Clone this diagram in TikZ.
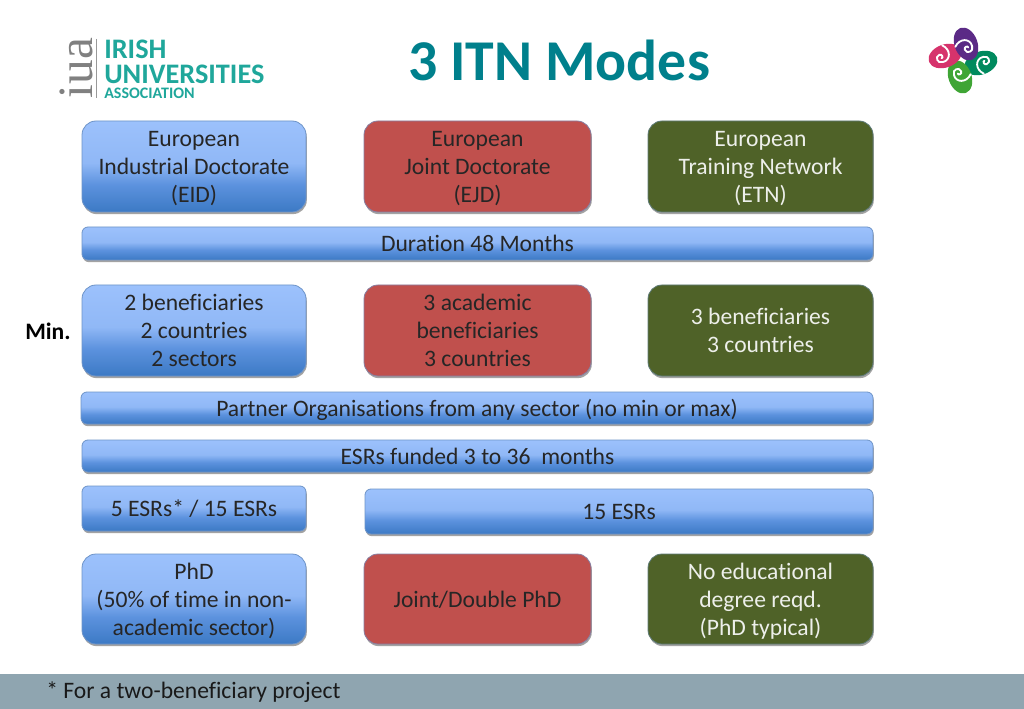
\documentclass[tikz,border=0pt]{standalone}
\usepackage{fontspec}
\setmainfont[Ligatures=NoCommon]{Carlito}
\newfontfamily\iuaserif{Liberation Serif}
\usetikzlibrary{shadows,calc}
\definecolor{teal1}{HTML}{00808C}
\definecolor{iuateal}{HTML}{1FA79B}
\definecolor{edgeblue}{HTML}{6E94C8}
\definecolor{redfill}{HTML}{C0504D}
\definecolor{greenfill}{HTML}{4F6228}
\definecolor{footbar}{HTML}{8FA5B0}
\definecolor{knotviolet}{HTML}{5B2A86}
\definecolor{knotpink}{HTML}{D6336C}
\definecolor{knotgreen}{HTML}{3FA535}
\definecolor{knotteal}{HTML}{008A5E}
\pgfdeclareverticalshading{bluegrad}{100bp}{
  color(0bp)=({rgb,255:red,62;green,123;blue,198});
  color(26bp)=({rgb,255:red,62;green,123;blue,198});
  color(40bp)=({rgb,255:red,92;green,146;blue,222});
  color(52bp)=({rgb,255:red,144;green,184;blue,246});
  color(75bp)=({rgb,255:red,156;green,193;blue,252});
  color(100bp)=({rgb,255:red,156;green,193;blue,252})}
\newcommand{\sT}{\rule[-3.2pt]{0pt}{18.8pt}}
\tikzset{
  x=0.75pt,y=-0.75pt,
  boxbase/.style={rounded corners=10.5pt,inner sep=0pt,align=center,
    font=\fontsize{17.7}{21}\selectfont,
    drop shadow={shadow xshift=0.6pt,shadow yshift=-1.6pt,opacity=0.36,fill=black}},
  bluebox/.style={boxbase,shading=bluegrad,draw=edgeblue,line width=0.6pt,text=black!85},
  redbox/.style={boxbase,fill=redfill,draw=edgeblue!70!redfill,line width=0.6pt,text=black!85},
  greenbox/.style={boxbase,fill=greenfill,draw=edgeblue!50!greenfill,line width=0.6pt,text=white!90!greenfill},
  barbox/.style={bluebox,rounded corners=4.5pt}
}
\newcommand{\bx}[7]{% name, style, x1,y1,x2,y2, text
  \node[#2,minimum width={(#5-#3)*0.75pt},minimum height={(#6-#4)*0.75pt}] (#1)
    at ({(#3+#5)/2},{(#4+#6)/2}) {\sT #7\sT};}
\newcommand{\knotpetal}[4]{% rotation, colour, cx, cy
  \begin{scope}[shift={(#3,#4)},rotate=#1]
    \fill[#2] (0,0) ellipse[x radius=11.5,y radius=17];
    \draw[white,line width=1.4pt,line cap=round] (-11,-1) .. controls (-4,-8) and (6,-4) .. (5,4)
       .. controls (5,10) and (-3,10) .. (-3,5) .. controls (-3,2) and (1,2) .. (1,4);
  \end{scope}}
\begin{document}
\begin{tikzpicture}
\useasboundingbox (0,0) rectangle (1024,709);
\fill[white] (0,0) rectangle (1024,709);
\fill[footbar] (0,674) rectangle (1024,709);
\node[font=\fontsize{43.3}{48}\selectfont\bfseries,text=teal1,inner sep=0pt] (title) at (559,60) {3 ITN Modes};

% IUA logo
\node[font=\fontsize{21.2}{18.75}\selectfont\bfseries,text=iuateal,anchor=south west,inner sep=0pt,align=left] (irish) at (104,99)
  {IRISH\\UNIVERSITIES\\[-7.5pt]{\fontsize{12}{12}\selectfont ASSOCIATION}};
\node[font=\fontsize{37}{38}\selectfont\iuaserif,text=black!50,rotate=90,anchor=base,inner sep=0pt] (iua) at (92,68) {iua};
\draw[black!40,line width=0.6pt] (96,39) -- (96,98);

% knot logo
\knotpetal{110}{knotteal}{981}{63}
\knotpetal{200}{knotgreen}{960}{77}
\knotpetal{-70}{knotpink}{945}{56}
\knotpetal{20}{knotviolet}{966}{44}

% row 1
\bx{eid}{bluebox}{82}{121}{306}{212}{European\\Industrial Doctorate\\(EID)}
\bx{ejd}{redbox}{364}{121}{591}{212}{European\\Joint Doctorate\\(EJD)}
\bx{etn}{greenbox}{648}{121}{873}{212}{European\\Training Network\\(ETN)}
\bx{dur}{barbox}{82}{227}{873}{260}{Duration 48 Months}
% row 2
\node[font=\fontsize{17.7}{21}\selectfont\bfseries,inner sep=0pt] (min) at (48,331) {Min.};
\bx{b1}{bluebox}{82}{285}{306}{376}{2 beneficiaries\\2 countries\\2 sectors}
\bx{b2}{redbox}{364}{285}{591}{376}{3 academic\\beneficiaries\\3 countries}
\bx{b3}{greenbox}{648}{285}{873}{376}{3 beneficiaries\\3 countries}
\bx{partner}{barbox}{81}{392}{873}{424}{Partner Organisations from any sector (no min or max)}
\bx{funded}{barbox}{82}{440}{873}{472}{ESRs funded 3 to 36\ \ months}
\bx{e5}{barbox}{82}{486}{306}{531}{5 ESRs* / 15 ESRs}
\bx{e15}{barbox}{365}{489}{873}{534}{15 ESRs}
% last row
\bx{p1}{bluebox}{82}{554}{306}{644}{PhD\\(50\% of time in non-\\academic sector)}
\bx{p2}{redbox}{364}{554}{591}{644}{Joint/Double PhD}
\bx{p3}{greenbox}{648}{554}{873}{644}{No educational\\degree reqd.\\(PhD typical)}
\node[font=\fontsize{17.7}{21}\selectfont,anchor=west,inner sep=0pt,text=black!90] (note) at (46,692) {* For a two-beneficiary project};
\end{tikzpicture}
\end{document}
